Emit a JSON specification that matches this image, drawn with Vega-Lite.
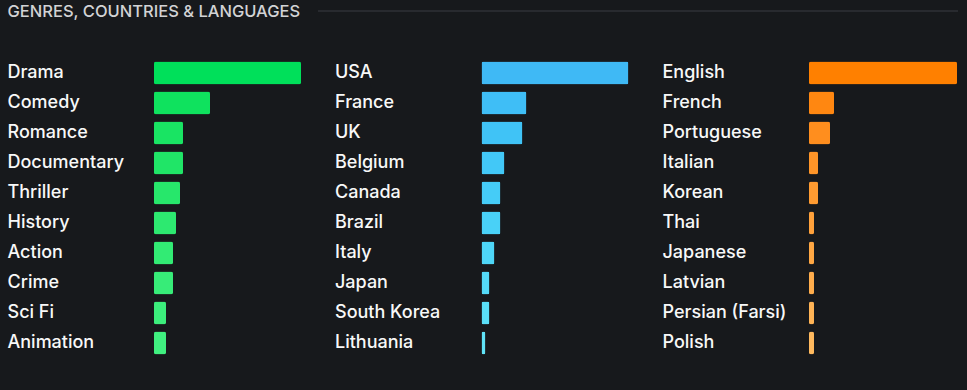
{
  "$schema": "https://vega.github.io/schema/vega-lite/v6.json",
  "background": "#17191c",
  "padding": {"left": 7, "top": 3, "right": 10, "bottom": 33},
  "config": {
    "view": {"stroke": null},
    "axis": {"labelFont": "Inter", "titleFont": "Inter"}
  },
  "datasets": {
    "genres": [
      {"name": "Drama", "count": 147, "rank": 1},
      {"name": "Comedy", "count": 56, "rank": 2},
      {"name": "Romance", "count": 29, "rank": 3},
      {"name": "Documentary", "count": 29, "rank": 4},
      {"name": "Thriller", "count": 26, "rank": 5},
      {"name": "History", "count": 22, "rank": 6},
      {"name": "Action", "count": 19, "rank": 7},
      {"name": "Crime", "count": 19, "rank": 8},
      {"name": "Sci Fi", "count": 12, "rank": 9},
      {"name": "Animation", "count": 12, "rank": 10}
    ],
    "countries": [
      {"name": "USA", "count": 147, "rank": 1},
      {"name": "France", "count": 45, "rank": 2},
      {"name": "UK", "count": 41, "rank": 3},
      {"name": "Belgium", "count": 23, "rank": 4},
      {"name": "Canada", "count": 19, "rank": 5},
      {"name": "Brazil", "count": 19, "rank": 6},
      {"name": "Italy", "count": 13, "rank": 7},
      {"name": "Japan", "count": 8, "rank": 8},
      {"name": "South Korea", "count": 8, "rank": 9},
      {"name": "Lithuania", "count": 4, "rank": 10}
    ],
    "languages": [
      {"name": "English", "count": 148, "rank": 1},
      {"name": "French", "count": 25, "rank": 2},
      {"name": "Portuguese", "count": 21, "rank": 3},
      {"name": "Italian", "count": 9, "rank": 4},
      {"name": "Korean", "count": 9, "rank": 5},
      {"name": "Thai", "count": 5, "rank": 6},
      {"name": "Japanese", "count": 5, "rank": 7},
      {"name": "Latvian", "count": 5, "rank": 8},
      {"name": "Persian (Farsi)", "count": 5, "rank": 9},
      {"name": "Polish", "count": 5, "rank": 10}
    ],
    "header": [{"v": 0}]
  },
  "columns": 1,
  "align": "none",
  "spacing": 38,
  "concat": [
    {
      "spacing": 17,
      "hconcat": [
        {
          "data": {"name": "header"},
          "width": 146,
          "height": 1,
          "mark": {"type": "rule", "color": "#3a3d42", "strokeOpacity": 0},
          "encoding": {
            "y": {
              "datum": 0,
              "type": "quantitative",
              "axis": {
                "title": "GENRES, COUNTRIES & LANGUAGES",
                "titleAngle": 0,
                "titleAlign": "left",
                "titleBaseline": "middle",
                "titlePadding": 147,
                "titleFontSize": 16.5,
                "titleFontWeight": 500,
                "titleColor": "#d2d3d5",
                "titleLimit": 400,
                "labels": false,
                "ticks": false,
                "domain": false,
                "grid": false,
                "minExtent": 0,
                "maxExtent": 0
              }
            }
          }
        },
        {
          "data": {"name": "header"},
          "width": 640,
          "height": 1,
          "mark": {"type": "rule", "color": "#3a3d42", "strokeWidth": 1},
          "encoding": {
            "y": {"datum": 0, "type": "quantitative", "axis": null}
          }
        }
      ]
    },
    {
      "spacing": 33.5,
      "resolve": {"scale": {"color": "independent", "x": "independent", "y": "independent"}},
      "hconcat": [
        {
          "data": {"name": "genres"},
          "width": 147,
          "height": {"step": 30},
          "mark": {"type": "bar", "cornerRadius": 2},
          "encoding": {
            "y": {
              "field": "name", "type": "nominal", "sort": null,
              "scale": {"paddingInner": 0.24, "paddingOuter": 0.12},
              "axis": {"title": null, "labelAlign": "left", "labelPadding": 147, "tickSize": 0, "ticks": false, "domain": false, "grid": false, "labelFontSize": 18, "labelFontWeight": 500, "labelColor": "#f8f8f8", "labelLimit": 250}
            },
            "x": {"field": "count", "type": "quantitative", "scale": {"domain": [0, 147], "nice": false}, "axis": null},
            "color": {"field": "rank", "type": "quantitative", "scale": {"range": ["#00e05a", "#40f080"]}, "legend": null}
          }
        },
        {
          "data": {"name": "countries"},
          "width": 147,
          "height": {"step": 30},
          "mark": {"type": "bar", "cornerRadius": 2},
          "encoding": {
            "y": {
              "field": "name", "type": "nominal", "sort": null,
              "scale": {"paddingInner": 0.24, "paddingOuter": 0.12},
              "axis": {"title": null, "labelAlign": "left", "labelPadding": 147, "tickSize": 0, "ticks": false, "domain": false, "grid": false, "labelFontSize": 18, "labelFontWeight": 500, "labelColor": "#f8f8f8", "labelLimit": 250}
            },
            "x": {"field": "count", "type": "quantitative", "scale": {"domain": [0, 147], "nice": false}, "axis": null},
            "color": {"field": "rank", "type": "quantitative", "scale": {"range": ["#3fb9f5", "#60e3f7"]}, "legend": null}
          }
        },
        {
          "data": {"name": "languages"},
          "width": 148,
          "height": {"step": 30},
          "mark": {"type": "bar", "cornerRadius": 2},
          "encoding": {
            "y": {
              "field": "name", "type": "nominal", "sort": null,
              "scale": {"paddingInner": 0.24, "paddingOuter": 0.12},
              "axis": {"title": null, "labelAlign": "left", "labelPadding": 147, "tickSize": 0, "ticks": false, "domain": false, "grid": false, "labelFontSize": 18, "labelFontWeight": 500, "labelColor": "#f8f8f8", "labelLimit": 250}
            },
            "x": {"field": "count", "type": "quantitative", "scale": {"domain": [0, 148], "nice": false}, "axis": null},
            "color": {"field": "rank", "type": "quantitative", "scale": {"range": ["#ff8000", "#ffb95e"]}, "legend": null}
          }
        }
      ]
    }
  ]
}
